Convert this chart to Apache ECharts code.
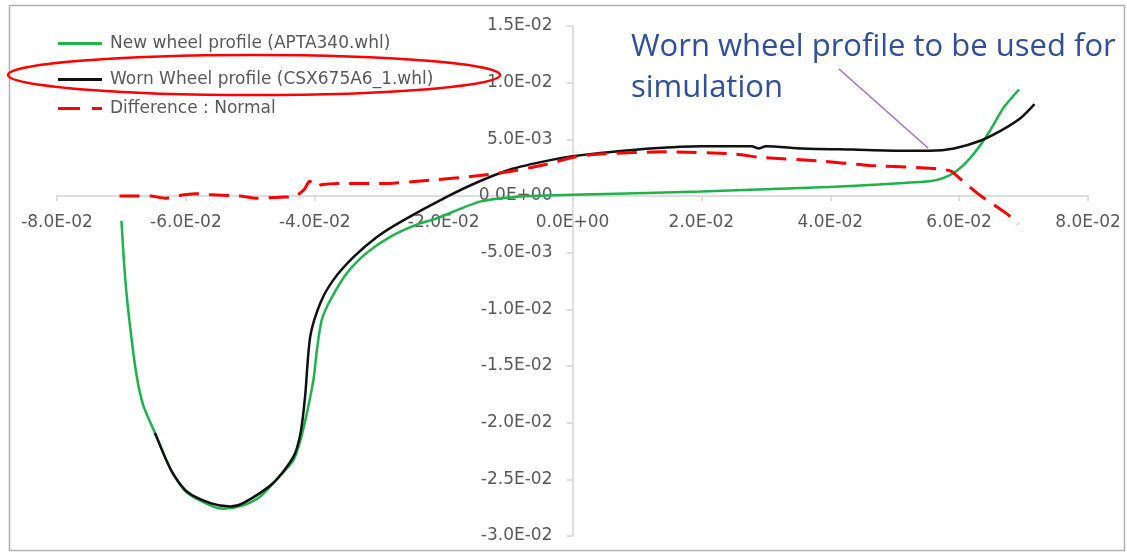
<!DOCTYPE html>
<html>
<head>
<meta charset="utf-8">
<script src="https://cdn.jsdelivr.net/npm/echarts@6/dist/echarts.min.js"></script>
<style>
html,body{margin:0;padding:0;background:#fff;}
#chart{width:1127px;height:552px;}
</style>
</head>
<body>
<div id="chart"></div>
<script>
// ---- data ----
const newX = [-0.0700,-0.0694,-0.0686,-0.0676,-0.0666,-0.0648,-0.0622,-0.0598,-0.0562,-0.0542,-0.0511,-0.0484,-0.0459,-0.0433,-0.0422,-0.0412,-0.0402,-0.0396,-0.0389,-0.0376,-0.0350,-0.0319,-0.0283,-0.0241,-0.0212,-0.0144,-0.0093,0.0000,0.0200,0.0398,0.0554,0.0576,0.0596,0.0618,0.0644,0.0669,0.0693];
const newY = [-0.0022,-0.0074,-0.0118,-0.0160,-0.0185,-0.0209,-0.0243,-0.0262,-0.0273,-0.0276,-0.0273,-0.0265,-0.0250,-0.0233,-0.0215,-0.0191,-0.0162,-0.0133,-0.0109,-0.0092,-0.0068,-0.0050,-0.0036,-0.0025,-0.0020,-0.0005,-0.0001,0.0001,0.0004,0.0008,0.0013,0.0016,0.0022,0.0034,0.0054,0.0078,0.0094];

const wornX = [-0.0648,-0.0622,-0.0598,-0.0562,-0.0531,-0.0511,-0.0464,-0.0433,-0.0422,-0.0415,-0.0407,-0.0391,-0.0371,-0.0340,-0.0303,-0.0264,-0.0196,-0.0144,-0.0093,-0.0040,0.0000,0.0043,0.0121,0.0200,0.0278,0.0289,0.0300,0.0357,0.0435,0.0513,0.0554,0.0592,0.0634,0.0669,0.0696,0.0717];
const wornY = [-0.0209,-0.0243,-0.0261,-0.0271,-0.0274,-0.0271,-0.0253,-0.0230,-0.0209,-0.0177,-0.0124,-0.0094,-0.0074,-0.0054,-0.0036,-0.0022,-0.0001,0.0013,0.0024,0.0031,0.0035,0.0038,0.0042,0.0044,0.0044,0.0042,0.0044,0.0042,0.0041,0.0040,0.0040,0.0042,0.0049,0.0059,0.0069,0.0081];

const diffX = [-0.0703,-0.0655,-0.0632,-0.0615,-0.0585,-0.0560,-0.0516,-0.0490,-0.0453,-0.0430,-0.0416,-0.0408,-0.0398,-0.0390,-0.0360,-0.0300,-0.0220,-0.0144,-0.0093,-0.0040,0.0000,0.0043,0.0148,0.0252,0.0293,0.0382,0.0461,0.0539,0.0565,0.0587,0.0602,0.0634,0.0675,0.0691];
const diffY = [0.0000,0.0000,-0.0002,0.0000,0.0002,0.0001,0.0000,-0.0002,-0.0001,0.0000,0.0006,0.0013,0.0008,0.0010,0.0011,0.0011,0.0014,0.0018,0.0022,0.0028,0.0034,0.0037,0.0039,0.0037,0.0034,0.0031,0.0027,0.0025,0.0024,0.0022,0.0015,0.0000,-0.0016,-0.0025];

const seriesNames = ['New wheel profile (APTA340.whl)','Worn Wheel profile (CSX675A6_1.whl)','Difference : Normal'];
const annotationLines = ['Worn wheel profile to be used for','simulation'];

function pairs(xs, ys){ return xs.map((x,i)=>[x, ys[i]]); }
function fmt(v){
  if (Math.abs(v) < 1e-12) return '0.0E+00';
  const s = v.toExponential(1);
  const parts = s.split('e');
  const e = parseInt(parts[1], 10);
  const d = Math.abs(e);
  return parts[0] + 'E' + (e < 0 ? '-' : '+') + (d < 10 ? '0' : '') + d;
}

const FONT = '"DejaVu Sans", "Open Sans", sans-serif';
const TFONT = '"Open Sans", "DejaVu Sans", sans-serif';
const chart = echarts.init(document.getElementById('chart'), null, {renderer:'canvas'});
const axisCol = '#d4d4d4';
const labelCol = '#595959';

// grid geometry
const G = {left:57, right:39, top:26, bottom:16, w:1127, h:552};
const XMIN=-0.08, XMAX=0.08, YMIN=-0.03, YMAX=0.015;
const plotW = G.w - G.left - G.right, plotH = G.h - G.top - G.bottom;
const yAxisOffset = -plotW * (0 - XMIN) / (XMAX - XMIN);   // move y axis to x = 0
const xAxisOffset = -plotH * (0 - YMIN) / (YMAX - YMIN);   // move x axis to y = 0

const icons = ['path://M0,0H44V3H0Z', 'path://M0,0H44V3H0Z', 'path://M0,0H22V3H0Z M34,0H44V3H34Z'];
function legendAt(i, top){
  return {
    data:[{name:seriesNames[i], icon:icons[i]}], left:53, top:top, itemWidth:44, itemHeight:3, itemGap:0,
    textStyle:{color:labelCol, fontSize:17, fontFamily:FONT, padding:[0,0,0,3]},
    selectedMode:false
  };
}

chart.setOption({
  animation:false,
  backgroundColor:'#ffffff',
  grid:{left:G.left, right:G.right, top:G.top, bottom:G.bottom, containLabel:false},
  legend:[legendAt(0,30), legendAt(1,66), legendAt(2,95)],
  xAxis:{
    type:'value', min:XMIN, max:XMAX, interval:0.02, position:'bottom', offset:xAxisOffset,
    axisLine:{show:true, onZero:false, lineStyle:{color:axisCol, width:1.5}},
    axisTick:{show:true, length:5, lineStyle:{color:axisCol, width:1.5}},
    axisLabel:{formatter:fmt, color:labelCol, fontSize:17, fontFamily:FONT, margin:18},
    splitLine:{show:false}
  },
  yAxis:{
    type:'value', min:YMIN, max:YMAX, interval:0.005, position:'left', offset:yAxisOffset,
    axisLine:{show:true, onZero:false, lineStyle:{color:axisCol, width:1.5}},
    axisTick:{show:true, length:6, lineStyle:{color:axisCol, width:1.5}},
    axisLabel:{formatter:fmt, color:labelCol, fontSize:17, fontFamily:FONT, margin:20},
    splitLine:{show:false}
  },
  series:[
    {name:seriesNames[0], type:'line', data:pairs(newX,newY), showSymbol:false, symbol:'none',
     smooth:0.25, lineStyle:{color:'#1db34a', width:2.5}, itemStyle:{color:'#1db34a'}},
    {name:seriesNames[1], type:'line', data:pairs(wornX,wornY), showSymbol:false, symbol:'none',
     smooth:0.25, lineStyle:{color:'#111111', width:2.5}, itemStyle:{color:'#111111'}},
    {name:seriesNames[2], type:'line', data:pairs(diffX,diffY), showSymbol:false, symbol:'none',
     smooth:0.25, lineStyle:{color:'#ff0000', width:3, type:[20,10]}, itemStyle:{color:'#ff0000'}}
  ],
  graphic:[
    {type:'rect', shape:{x:9.5, y:5.5, width:1115, height:545}, style:{fill:null, stroke:'#b0b0b0', lineWidth:1.5}, silent:true, z:-1},
    {type:'ellipse', shape:{cx:254, cy:75, rx:246, ry:20}, style:{fill:null, stroke:'#ff0000', lineWidth:2.5}, silent:true, z:10},
    {type:'text', left:631, top:27, style:{text:annotationLines.join('\n'), fill:'#2f4f9a', font:'31px ' + TFONT, lineHeight:41}, silent:true, z:10},
    {type:'line', shape:{x1:839, y1:69, x2:928, y2:148}, style:{stroke:'#a070c0', lineWidth:1.5}, silent:true, z:10}
  ]
});
</script>
</body>
</html>
